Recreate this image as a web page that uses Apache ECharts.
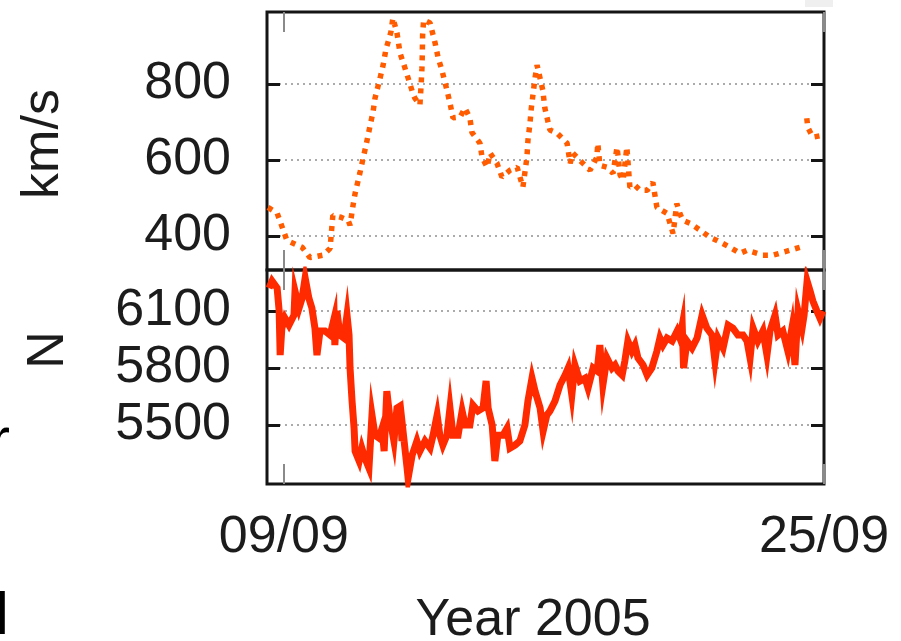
<!DOCTYPE html>
<html>
<head>
<meta charset="utf-8">
<script src="https://cdn.jsdelivr.net/npm/echarts@6/dist/echarts.min.js"></script>
<style>
  html, body { margin: 0; padding: 0; background: #fff; }
  #chart { width: 901px; height: 641px; }
</style>
</head>
<body>
<div id="chart"></div>
<script>
// Solar wind speed (km/s) and neutron monitor counts (N), 8.5 - 25 September 2005.
// Time is expressed as day of September (fractional).

const speedDays = [
  8.53, 8.80, 9.09, 9.54, 9.77, 9.98, 10.16, 10.37, 10.40, 10.45, 10.69, 10.90, 10.96,
  11.05, 11.11, 11.25, 11.34, 11.43, 11.55, 11.64, 11.70, 11.85, 11.94, 12.02, 12.17,
  12.23, 12.35, 12.44, 12.56, 12.68, 12.82, 12.88, 13.03, 13.07, 13.09, 13.10, 13.11,
  13.14, 13.33, 13.48, 13.57, 13.68, 13.83, 13.92, 14.01, 14.22, 14.36, 14.51, 14.57,
  14.81, 14.87, 15.02, 15.11, 15.31, 15.46, 15.70, 15.91, 16.08, 16.20, 16.23, 16.29,
  16.33, 16.37, 16.44, 16.50, 16.67, 16.73, 16.88, 17.09, 17.39, 17.48, 17.56, 17.86,
  18.07, 18.27, 18.30, 18.36, 18.57, 18.75, 18.87, 18.96, 19.05, 19.16, 19.25, 19.40,
  19.55, 19.76, 19.93, 20.05, 20.20, 20.35, 20.53, 20.64, 20.73, 20.82, 21.03, 21.33,
  21.62, 21.83, 22.21, 22.51, 22.72, 23.19, 23.49, 23.99, 24.29, 24.40, 24.49, 24.52,
  24.67, 24.94
];
const speedValues = [
  475, 460, 388, 370, 343, 346, 349, 367, 401, 454, 449, 441, 428,
  481, 512, 565, 602, 637, 689, 726, 763, 816, 850, 890, 937,
  974, 935, 882, 850, 816, 776, 763, 745, 805, 842, 877, 930,
  969, 961, 908, 869, 837, 784, 750, 711, 713, 737, 711, 673,
  644, 607, 581, 618, 592, 555, 573, 581, 528, 607, 652, 697,
  737, 766, 816, 850, 784, 737, 679, 671, 644, 591, 618, 591,
  573, 607, 644, 586, 581, 565, 634, 560, 547, 634, 528, 533,
  520, 520, 541, 475, 467, 459, 406, 485, 459, 441, 433, 415,
  396, 388, 370, 354, 362, 349, 349, 362, 370, null, 710, 686,
  660, 665
];

const nmDays = [
  8.56, 8.65, 8.80, 8.86, 8.89, 8.94, 9.03, 9.15, 9.30, 9.33, 9.45, 9.54, 9.63, 9.74,
  9.83, 9.92, 9.98, 10.07, 10.22, 10.37, 10.49, 10.51, 10.57, 10.66, 10.78, 10.87,
  10.93, 10.96, 11.02, 11.08, 11.11, 11.23, 11.31, 11.40, 11.52, 11.61, 11.70, 11.82,
  11.91, 11.97, 12.05, 12.14, 12.26, 12.35, 12.44, 12.50, 12.53, 12.65, 12.68, 12.80,
  12.94, 13.03, 13.18, 13.33, 13.42, 13.54, 13.62, 13.71, 13.83, 13.92, 14.01, 14.16,
  14.28, 14.37, 14.51, 14.60, 14.75, 14.90, 14.99, 15.05, 15.17, 15.25, 15.34, 15.49,
  15.61, 15.70, 15.85, 15.99, 16.14, 16.23, 16.35, 16.44, 16.59, 16.68, 16.79, 16.88,
  17.03, 17.18, 17.33, 17.42, 17.53, 17.62, 17.77, 17.92, 18.01, 18.16, 18.28, 18.36,
  18.45, 18.57, 18.72, 18.81, 18.90, 19.02, 19.10, 19.19, 19.31, 19.40, 19.49, 19.64,
  19.76, 19.90, 20.05, 20.14, 20.23, 20.35, 20.50, 20.65, 20.73, 20.80, 20.84, 20.94,
  21.09, 21.24, 21.39, 21.53, 21.68, 21.77, 21.86, 22.01, 22.16, 22.30, 22.45, 22.60,
  22.72, 22.81, 22.90, 23.04, 23.19, 23.31, 23.40, 23.55, 23.64, 23.78, 23.93, 24.05,
  24.14, 24.23, 24.35, 24.41, 24.50, 24.59, 24.67, 24.79, 24.88, 24.97
];
const nmCounts = [
  6221, 6258, 6221, 6100, 5868, 6010, 6063, 6026, 6079, 6205, 6116, 6168, 6274, 6168,
  6116, 6010, 5868, 5995, 5995, 5974, 6063, 5921, 6100, 5974, 5958, 6079,
  5974, 5800, 5626, 5484, 5363, 5311, 5379, 5326, 5274, 5553, 5447, 5432,
  5484, 5363, 5679, 5537, 5416, 5590, 5600, 5416, 5468, 5274, 5221, 5342,
  5416, 5363, 5416, 5379, 5447, 5553, 5447, 5395, 5447, 5590, 5447, 5447,
  5574, 5500, 5500, 5605, 5574, 5590, 5732, 5590, 5500, 5311, 5447, 5447,
  5484, 5379, 5395, 5416, 5500, 5626, 5747, 5679, 5590, 5468, 5553, 5574,
  5626, 5711, 5763, 5800, 5658, 5816, 5732, 5747, 5695, 5800, 5784, 5921,
  5711, 5853, 5800, 5816, 5784, 5763, 5837, 5942, 5889, 5921, 5853, 5816,
  5763, 5800, 5889, 5958, 5921, 5958, 5942, 5995, 5958, 6026, 5800, 5942,
  5905, 5958, 6079, 6010, 5974, 5837, 5958, 5905, 6026, 6010, 5974, 5974,
  5942, 5853, 6010, 5942, 5995, 5868, 5995, 6079, 5974, 5995, 5889, 6010,
  5816, 6100, 6010, 6079, 6258, 6205, 6153, 6100, 6063, 6100
];

// Axis ranges and tick marks
const dayRange = [8.5, 25];
const dayTicks = [9, 25];
const dayTickLabels = { 9: '09/09', 25: '25/09' };
const speedRange = [310, 990];
const speedTicks = [400, 600, 800];
const nmRange = [5190, 6316];
const nmTicks = [5500, 5800, 6100];

const FONT = '"Liberation Sans", Arimo, Arial, Helvetica, sans-serif';
const TEXT = '#1c1c1c';
const FS = 52;

function zip(xs, ys) { return xs.map((x, i) => [x, ys[i]]); }

const chart = echarts.init(document.getElementById('chart'), null, { renderer: 'canvas' });

const gridBox = { left: 267, right: 77, show: true, borderColor: '#151515', borderWidth: 3,
  backgroundColor: 'transparent', containLabel: false, outerBoundsMode: 'none' };

function xAxisFor(grid, position, labels) {
  return {
    gridIndex: grid, type: 'value', position: position,
    min: dayRange[0], max: dayRange[1],
    axisLine: { show: false },
    axisTick: { show: true, inside: true, length: 20, customValues: dayTicks,
      lineStyle: { color: '#8a8a8a', width: 2 } },
    axisLabel: labels ? {
      show: true, customValues: dayTicks, margin: 28,
      formatter: v => dayTickLabels[Math.round(v)] || '',
      fontSize: FS, fontFamily: FONT, color: TEXT
    } : { show: false },
    splitLine: { show: false }
  };
}

function yAxisFor(grid, position, range, ticks, main) {
  return {
    gridIndex: grid, type: 'value', position: position,
    min: range[0], max: range[1],
    axisLine: { show: false },
    axisTick: { show: true, inside: true, length: 13, customValues: ticks,
      lineStyle: { color: '#151515', width: 3 } },
    axisLabel: main ? {
      show: true, customValues: ticks, margin: 36,
      formatter: v => String(Math.round(v)),
      fontSize: FS, fontFamily: FONT, color: TEXT
    } : { show: false },
    splitLine: main ? { show: true, lineStyle: { color: '#ababab', width: 2, type: [2, 4] } } : { show: false }
  };
}

const option = {
  animation: false,
  backgroundColor: '#ffffff',
  textStyle: { fontFamily: FONT },
  grid: [
    Object.assign({ top: 12, height: 258 }, gridBox),
    Object.assign({ top: 270, height: 214 }, gridBox)
  ],
  xAxis: [
    xAxisFor(0, 'bottom', false),
    xAxisFor(0, 'top', false),
    xAxisFor(1, 'bottom', true),
    xAxisFor(1, 'top', false)
  ],
  yAxis: [
    yAxisFor(0, 'left', speedRange, speedTicks, true),
    yAxisFor(0, 'right', speedRange, speedTicks, false),
    yAxisFor(1, 'left', nmRange, nmTicks, true),
    yAxisFor(1, 'right', nmRange, nmTicks, false)
  ],
  series: [
    {
      name: 'km/s', type: 'line', xAxisIndex: 0, yAxisIndex: 0,
      data: zip(speedDays, speedValues),
      showSymbol: false, connectNulls: false, clip: true,
      lineStyle: { color: '#ff5c00', width: 5.5, type: [5, 6], cap: 'butt' },
      z: 3
    },
    {
      name: 'N', type: 'line', xAxisIndex: 2, yAxisIndex: 2,
      data: zip(nmDays, nmCounts),
      showSymbol: false, clip: true,
      lineStyle: { color: '#ff2a00', width: 7, join: 'miter' },
      z: 3
    }
  ],
  graphic: [
    { type: 'text', x: 44, y: 144, rotation: Math.PI / 2,
      style: { text: 'km/s', fontSize: FS, fontFamily: FONT, fill: TEXT, align: 'center', verticalAlign: 'middle' } },
    { type: 'text', x: 49, y: 350, rotation: Math.PI / 2,
      style: { text: 'N', fontSize: FS, fontFamily: FONT, fill: TEXT, align: 'center', verticalAlign: 'middle' } },
    { type: 'text', x: 533, y: 621,
      style: { text: 'Year 2005', fontSize: FS, fontFamily: FONT, fill: TEXT, align: 'center', verticalAlign: 'middle' } },
    { type: 'text', x: -10, y: 442,
      style: { text: 'r', fontSize: 60, fontFamily: FONT, fill: '#000', align: 'left', verticalAlign: 'middle' } },
    { type: 'text', x: -4.5, y: 617,
      style: { text: 'l', fontSize: 60, fontFamily: FONT, fill: '#000', align: 'left', verticalAlign: 'middle' } },
    { type: 'rect', shape: { x: 805, y: 0, width: 28, height: 7 }, style: { fill: '#efefef' }, z: -1 }
  ]
};

chart.setOption(option);
</script>
</body>
</html>
